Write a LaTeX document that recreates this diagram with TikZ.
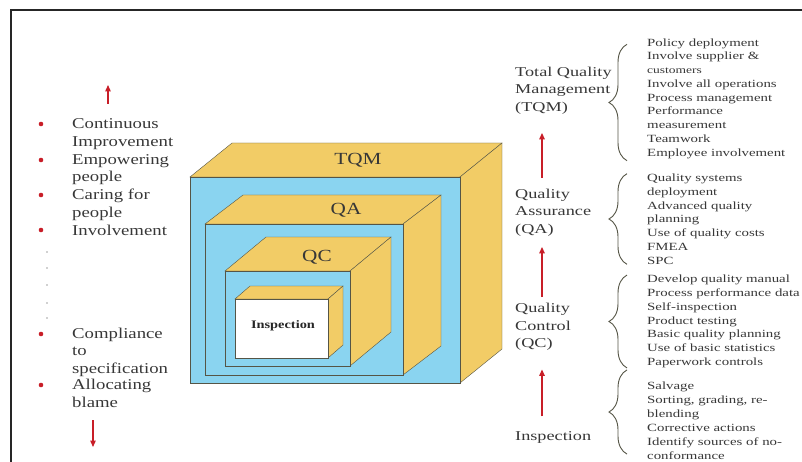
\documentclass[tikz,border=0pt]{standalone}
\usepackage{fontspec}
\setmainfont{Liberation Serif}
\newfontfamily\leftfont[FakeStretch=1.25]{Liberation Serif}
\newfontfamily\widefont[FakeStretch=1.35]{Liberation Serif}
\usetikzlibrary{arrows.meta,decorations.pathreplacing}
\definecolor{boxblue}{RGB}{138,212,240}
\definecolor{boxyellow}{RGB}{242,204,102}
\definecolor{edgegray}{RGB}{85,85,70}
\definecolor{textgray}{RGB}{55,55,55}
\definecolor{accentred}{RGB}{200,30,40}

\begin{document}
\begin{tikzpicture}[x=1pt, y=-1pt,
    every node/.style={inner sep=0pt, text=textgray},
    bullettext/.style={anchor=west, align=left, font=\leftfont\fontsize{15}{17.6}\selectfont},
    levellabel/.style={anchor=west, align=left, font=\widefont\fontsize{13.5}{17.6}\selectfont},
    itemlist/.style={anchor=west, align=left, font=\widefont\fontsize{11}{13.75}\selectfont},
    boxlabel/.style={font=\leftfont\fontsize{17}{17}\selectfont},
    risearrow/.style={draw=accentred, line width=1.3pt, -{Triangle[length=6.5pt,width=5.5pt]}},
    listbrace/.style={draw=edgegray, line width=0.9pt, decorate, decoration={brace, amplitude=18pt}}]
  \useasboundingbox (0,0) rectangle (802,462);
  \draw[black!85, line width=1.6pt] (11,462) -- (11,10) -- (802,10);

  % nested boxes, outer to inner: front corners, depth, rise, front colour
  \foreach \xa/\ya/\xb/\yb/\dx/\dy/\face in {190/177/460/383/42/34/boxblue,
      205/224/403/375/38/29/boxblue, 225/271/350/366/41/34/boxblue,
      235/299/328/358/15/13/white} {
    \filldraw[draw=edgegray, fill=boxyellow] (\xa,\ya) -- (\xa+\dx,\ya-\dy)
      -- (\xb+\dx,\ya-\dy) -- (\xb,\ya) -- cycle;
    \filldraw[draw=edgegray, fill=boxyellow] (\xb,\ya) -- (\xb+\dx,\ya-\dy)
      -- (\xb+\dx,\yb-\dy) -- (\xb,\yb) -- cycle;
    \filldraw[draw=edgegray, fill=\face] (\xa,\ya) rectangle (\xb,\yb);
  }
  \node[boxlabel] (tqmtag) at (358,160) {TQM};
  \node[boxlabel] (qatag) at (346,210) {QA};
  \node[boxlabel] (qctag) at (317,257) {QC};
  \node[font=\leftfont\bfseries\fontsize{11.5}{12}\selectfont, text=black!85] (insptag) at (283,326) {Inspection};

  % left column
  \node[bullettext] (cont) at (72,134) {Continuous\\Improvement};
  \node[bullettext] (empw) at (72,169.5) {Empowering\\people};
  \node[bullettext] (care) at (72,205) {Caring for\\people};
  \node[bullettext] (invl) at (72,230) {Involvement};
  \node[bullettext] (comp) at (72,352) {Compliance\\to\\specification};
  \node[bullettext] (blam) at (72,393.5) {Allocating\\blame};
  \foreach \y in {124,160,195,230,334,385}
    \fill[accentred] (41,\y) circle (2.3pt);
  \foreach \y in {252,268,285,303,318}
    \fill[textgray] (47,\y) circle (0.7pt);
  \coordinate (upfoot) at (108,104);
  \coordinate (uptip) at (108,85);
  \coordinate (downfoot) at (93,420);
  \coordinate (downtip) at (93,447);
  \draw[risearrow] (upfoot) -- (uptip);
  \draw[risearrow] (downfoot) -- (downtip);

  % right column: levels
  \node[levellabel] (tqm) at (515,90.5) {Total Quality\\Management\\(TQM)};
  \node[levellabel] (qa) at (515,212.5) {Quality\\Assurance\\(QA)};
  \node[levellabel] (qc) at (515,327) {Quality\\Control\\(QC)};
  \node[levellabel] (insp) at (515,437.5) {Inspection};
  \draw[risearrow] ([shift={(27pt,11pt)}]qa.north west) -- ([shift={(27pt,-18.5pt)}]tqm.south west);
  \draw[risearrow] ([shift={(27pt,6pt)}]qc.north west) -- ([shift={(27pt,-10.5pt)}]qa.south west);
  \draw[risearrow] ([shift={(27pt,15pt)}]insp.north west) -- ([shift={(27pt,-18.5pt)}]qc.south west);

  % right column: what each level involves
  \node[itemlist] (tqmlist) at (647,98.5) {Policy deployment\\Involve supplier \&\\{\fontsize{10}{13.75}\selectfont customers}\\Involve all operations\\Process management\\Performance\\measurement\\Teamwork\\Employee involvement};
  \node[itemlist] (qalist) at (647,219) {Quality systems\\deployment\\Advanced quality\\planning\\Use of quality costs\\FMEA\\SPC};
  \node[itemlist] (qclist) at (647,321.5) {Develop quality manual\\Process performance data\\Self-inspection\\Product testing\\Basic quality planning\\Use of basic statistics\\Paperwork controls};
  \node[itemlist, font=\widefont\fontsize{11}{14}\selectfont] (insplist) at (647,421) {Salvage\\Sorting, grading, re-\\blending\\Corrective actions\\Identify sources of no-\\conformance};
  \draw[listbrace] ([shift={(-20pt,-2pt)}]tqmlist.south west) -- ([shift={(-20pt,-6pt)}]tqmlist.north west);
  \draw[listbrace] ([xshift=-20pt]qalist.south west) -- ([xshift=-20pt]qalist.north west);
  \draw[listbrace] ([xshift=-20pt]qclist.south west) -- ([xshift=-20pt]qclist.north west);
  \draw[listbrace] ([shift={(-20pt,6pt)}]insplist.south west) -- ([shift={(-20pt,12pt)}]insplist.north west);
\end{tikzpicture}
\end{document}
